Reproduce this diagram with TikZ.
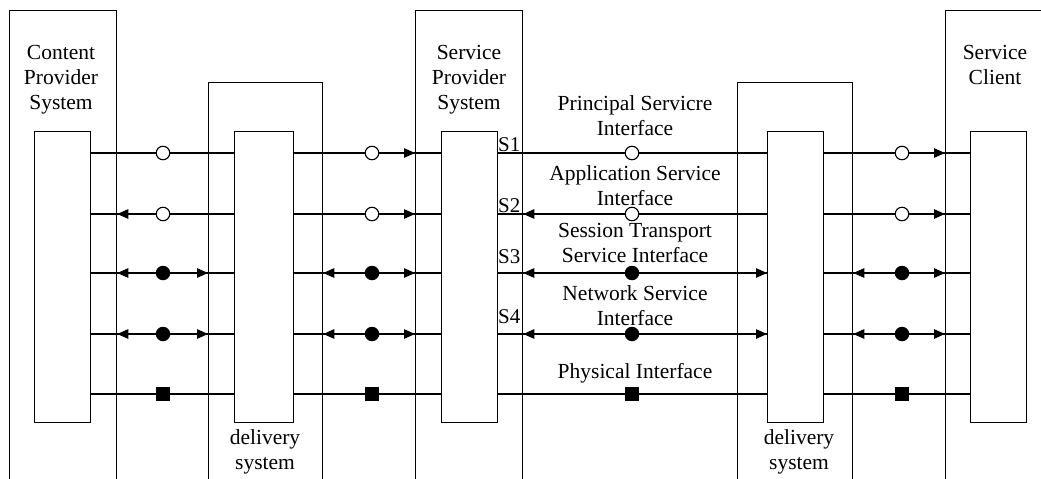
\documentclass[tikz,border=0pt]{standalone}
\usepackage{fontspec}
\setmainfont{Liberation Serif}
\usetikzlibrary{arrows.meta}

\begin{document}
\begin{tikzpicture}[x=1pt,y=-1pt,
  txt/.style={font=\fontsize{21.5}{25}\selectfont, inner sep=0pt, align=center, anchor=north},
  slbl/.style={font=\fontsize{21}{25}\selectfont, inner sep=0pt, anchor=base west},
  sys/.style={draw, line width=1.3pt, rectangle, anchor=north west, inner sep=0pt, minimum height=500pt},
  unit/.style={draw, line width=1.3pt, fill=white, rectangle, anchor=north west, inner sep=0pt, minimum height=291pt, minimum width=56pt},
  link/.style={line width=1.2pt},
  phys/.style={line width=2.8pt},
  tip/.style={link, -{Triangle[length=11pt,width=9.5pt]}},
  ocirc/.style={circle, draw, fill=white, line width=1.1pt, minimum size=13.5pt, inner sep=0pt},
  fcirc/.style={circle, fill=black, minimum size=14.5pt, inner sep=0pt},
  fsq/.style={rectangle, fill=black, minimum size=14pt, inner sep=0pt}
]
\useasboundingbox (0,0) rectangle (1041,479);
\clip (0,0) rectangle (1041,479);

% systems (open towards the bottom edge)
\node[sys, minimum width=107pt] (cpo) at (9,9.5) {};
\node[sys, minimum width=114pt] (d1o) at (208,82) {};
\node[sys, minimum width=107pt] (spo) at (415,9.5) {};
\node[sys, minimum width=115pt] (d2o) at (737,82) {};
\node[sys, minimum width=130pt] (sco) at (945,9.5) {};

% protocol stacks inside the systems
\node[unit] (cp) at (34,131) {};
\node[unit, minimum width=59pt] (d1) at (234,131) {};
\node[unit] (sp) at (441,131) {};
\node[unit] (d2) at (767,131) {};
\node[unit] (sc) at (970,131) {};

% interface levels
\coordinate (r1) at (0,153);
\coordinate (r2) at (0,214);
\coordinate (r3) at (0,273);
\coordinate (r4) at (0,334);
\coordinate (r5) at (0,394);

% interface points on each link
\foreach \r in {1,2} {
  \node[ocirc] (a\r) at (163,0 |- r\r) {};
  \node[ocirc] (b\r) at (372,0 |- r\r) {};
  \node[ocirc] (c\r) at (632,0 |- r\r) {};
  \node[ocirc] (e\r) at (902,0 |- r\r) {};
}
\foreach \r in {3,4} {
  \node[fcirc] (a\r) at (163,0 |- r\r) {};
  \node[fcirc] (b\r) at (372,0 |- r\r) {};
  \node[fcirc] (c\r) at (632,0 |- r\r) {};
  \node[fcirc] (e\r) at (902,0 |- r\r) {};
}
\node[fsq] (a5) at (163,0 |- r5) {};
\node[fsq] (b5) at (372,0 |- r5) {};
\node[fsq] (c5) at (632,0 |- r5) {};
\node[fsq] (e5) at (902,0 |- r5) {};

% links between the stacks
\foreach \r in {1,2,3,4} {
  \draw[link] (cp.east |- r\r) -- (a\r) -- (d1.west |- r\r);
  \draw[link] (d1.east |- r\r) -- (b\r) -- (sp.west |- r\r);
  \draw[link] (sp.east |- r\r) -- (c\r) -- (d2.west |- r\r);
  \draw[link] (d2.east |- r\r) -- (e\r) -- (sc.west |- r\r);
}
\draw[phys] (cp.east |- r5) -- (a5) -- (d1.west |- r5);
\draw[phys] (d1.east |- r5) -- (b5) -- (sp.west |- r5);
\draw[phys] (sp.east |- r5) -- (c5) -- (d2.west |- r5);
\draw[phys] (d2.east |- r5) -- (e5) -- (sc.west |- r5);

% directions
\draw[tip] (b1) -- (spo.west |- r1);
\draw[tip] (e1) -- (sco.west |- r1);
\draw[tip] (a2) -- (cpo.east |- r2);
\draw[tip] (b2) -- (spo.west |- r2);
\draw[tip] (c2) -- (spo.east |- r2);
\draw[tip] (e2) -- (sco.west |- r2);
\foreach \r in {3,4} {
  \draw[tip] (a\r) -- (cpo.east |- r\r);
  \draw[tip] (a\r) -- (d1o.west |- r\r);
  \draw[tip] (b\r) -- (d1o.east |- r\r);
  \draw[tip] (b\r) -- (spo.west |- r\r);
  \draw[tip] (c\r) -- (spo.east |- r\r);
  \draw[tip] (c\r) -- (d2.west |- r\r);
  \draw[tip] (e\r) -- (d2o.east |- r\r);
  \draw[tip] (e\r) -- (sco.west |- r\r);
}

% titles
\node[txt] (tcp) at (61,45.5) {Content\\Provider\\System};
\node[txt] (tsp) at (469,45.3) {Service\\Provider\\System};
\node[txt] (tsc) at (995,45.3) {Service\\Client};
\node[txt] (td1) at (265,429.3) {delivery\\system};
\node[txt] (td2) at (799,429.3) {delivery\\system};

% interface names
\node[txt] (l1) at (635,95.3) {Principal Servicre\\Interface};
\node[txt] (l2) at (635,165.3) {Application Service\\Interface};
\node[txt] (l3) at (635,223.3) {Session Transport\\Service Interface};
\node[txt] (l4) at (635,285.3) {Network Service\\Interface};
\node[txt] (l5) at (635,363.3) {Physical Interface};

\node[slbl] (s1) at (498,151) {S1};
\node[slbl] (s2) at (498,212) {S2};
\node[slbl] (s3) at (498,263) {S3};
\node[slbl] (s4) at (498,323) {S4};
\end{tikzpicture}
\end{document}
